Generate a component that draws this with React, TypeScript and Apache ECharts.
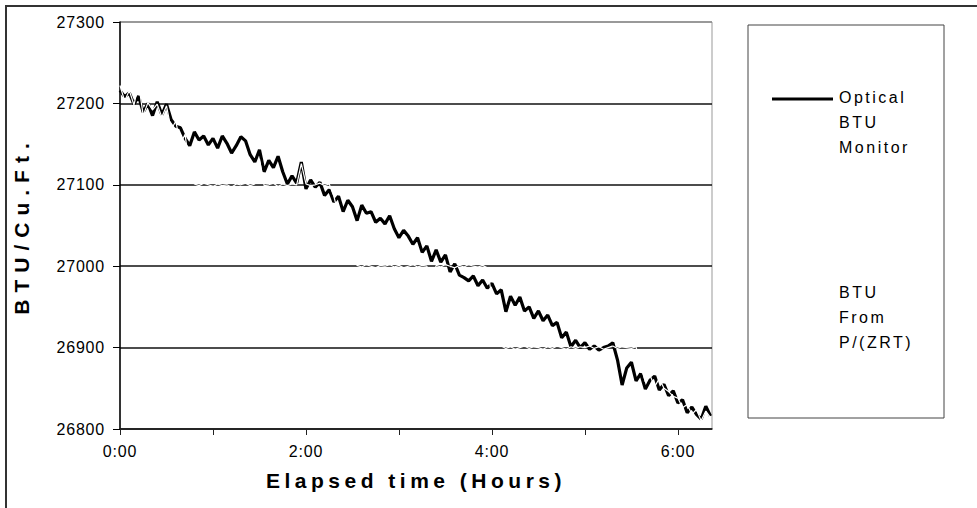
import React, { useEffect, useRef } from "react";
import * as echarts from "echarts";

// Elapsed time of each sample, in minutes
const minutes = [
  0, 3, 6, 9, 12, 15, 18, 21, 24, 27, 30, 33, 36, 39, 42, 45, 48, 51, 54, 57,
  60, 63, 66, 69, 72, 75, 78, 81, 84, 87, 90, 93, 96, 99, 102, 105, 108, 111, 114, 117,
  120, 123, 126, 129, 132, 135, 138, 141, 144, 147, 150, 153, 156, 159, 162, 165, 168, 171, 174, 177,
  180, 183, 186, 189, 192, 195, 198, 201, 204, 207, 210, 213, 216, 219, 222, 225, 228, 231, 234, 237,
  240, 243, 246, 249, 252, 255, 258, 261, 264, 267, 270, 273, 276, 279, 282, 285, 288, 291, 294, 297,
  300, 303, 306, 309, 312, 315, 318, 321, 324, 327, 330, 333, 336, 339, 342, 345, 348, 351, 354, 357,
  360, 363, 366, 369, 372, 375, 378, 381,
];

// Optical BTU monitor reading (BTU/Cu.Ft.)
const opticalBtu = [
  27216, 27208, 27213, 27199, 27209, 27189, 27200, 27185, 27202, 27186,
  27199, 27180, 27172, 27170, 27157, 27148, 27165, 27155, 27160, 27149,
  27157, 27145, 27160, 27151, 27139, 27148, 27159, 27154, 27137, 27128,
  27143, 27116, 27130, 27121, 27135, 27116, 27101, 27111, 27102, 27128,
  27095, 27106, 27097, 27103, 27087, 27094, 27079, 27086, 27067, 27081,
  27073, 27056, 27075, 27065, 27067, 27054, 27059, 27052, 27062, 27046,
  27035, 27044, 27037, 27027, 27035, 27017, 27025, 27006, 27020, 27005,
  27014, 26993, 27003, 26989, 26986, 26982, 26988, 26976, 26983, 26973,
  26979, 26966, 26971, 26944, 26963, 26952, 26962, 26945, 26950, 26936,
  26945, 26933, 26940, 26927, 26931, 26912, 26919, 26901, 26909, 26900,
  26906, 26898, 26902, 26897, 26900, 26902, 26906, 26885, 26854, 26875,
  26882, 26859, 26868, 26849, 26860, 26865, 26848, 26855, 26841, 26847,
  26832, 26836, 26820, 26827, 26818, 26812, 26828, 26816,
];

// BTU computed from P/(ZRT)
const calculatedBtu = [
  27222, 27203, 27216, 27198, 27224, 27185, 27201, 27192, 27199, 27183,
  27197, 27168, 27178, 27150, 27162, 27118, 27101, 27099, 27102, 27100,
  27098, 27101, 27099, 27100, 27097, 27101, 27100, 27102, 27099, 27101,
  27132, 27099, 27100, 27102, 27098, 27101, 27099, 27101, 27100, 27126,
  27101, 27099, 27100, 27102, 27099, 27101, 27086, 27062, 27048, 27030,
  27012, 27001, 26999, 27002, 27000, 26998, 27001, 27000, 27002, 26999,
  27001, 26998, 27000, 27002, 26999, 27001, 27000, 26980, 27001, 26999,
  27002, 27000, 26998, 27001, 26999, 27002, 27000, 26999, 27001, 26998,
  26962, 26930, 26902, 26899, 26901, 26898, 26900, 26902, 26899, 26901,
  26900, 26898, 26901, 26899, 26902, 26900, 26898, 26901, 26899, 26901,
  26900, 26902, 26899, 26901, 26898, 26900, 26902, 26899, 26901, 26900,
  26899, 26901, 26878, 26858, 26866, 26852, 26862, 26850, 26846, 26840,
  26838, 26826, 26830, 26818, 26824, 26810, 26822, 26814,
];

const seriesNames = ["Optical BTU Monitor", "BTU From P/(ZRT)"];
const legendLines = [
  ["Optical", "BTU", "Monitor"],
  ["BTU", "From", "P/(ZRT)"],
];
const xName = "Elapsed time (Hours)";
const yName = "BTU/Cu.Ft.";

const FONT = "'Liberation Sans', Arial, Helvetica, sans-serif";

const spacingFor = (s: string) => {
  if (s === xName) return 4.5;
  if (s === yName) return 7;
  if (legendLines.some((l) => l.includes(s))) return 2.5;
  return 0.8;
};

export default function App() {
  const ref = useRef<HTMLDivElement>(null);

  useEffect(() => {
    const el = ref.current!;
    const chart = echarts.init(el, null, { renderer: "svg" });

    const pairs = (vals: number[]) => minutes.map((m, i) => [m, vals[i]]);

    const legendText = (lines: string[], top: number) => ({
      type: "text",
      x: 839,
      y: top,
      silent: true,
      style: {
        text: lines.join("\n"),
        font: `16px ${FONT}`,
        fill: "#000",
        lineHeight: 25,
        verticalAlign: "top",
        align: "left",
      },
    });

    chart.setOption({
      animation: false,
      backgroundColor: "#fff",
      grid: {
        left: 120,
        top: 22,
        right: 265,
        bottom: 79,
        show: true,
        borderColor: "#999",
        borderWidth: 1,
        backgroundColor: "transparent",
      },
      xAxis: {
        type: "value",
        min: 0,
        max: 382,
        interval: 60,
        name: xName,
        nameLocation: "middle",
        nameGap: 41,
        nameTextStyle: { fontFamily: FONT, fontSize: 21, fontWeight: "bold", color: "#000" },
        axisLine: { show: true, onZero: false, lineStyle: { color: "#222", width: 1.5 } },
        axisTick: { show: true, inside: false, length: 6, lineStyle: { color: "#222" } },
        splitLine: { show: false },
        axisLabel: {
          show: true,
          margin: 14,
          fontFamily: FONT,
          fontSize: 16,
          color: "#000",
          showMaxLabel: false,
          formatter: (v: number) => (v % 120 === 0 ? `${v / 60}:00` : ""),
        },
      },
      yAxis: {
        type: "value",
        min: 26800,
        max: 27300,
        interval: 100,
        name: yName,
        nameLocation: "middle",
        nameGap: 88,
        nameRotate: 90,
        nameTextStyle: { fontFamily: FONT, fontSize: 21, fontWeight: "bold", color: "#000" },
        axisLine: { show: true, lineStyle: { color: "#000", width: 1.5 } },
        axisTick: { show: true, inside: false, length: 7, lineStyle: { color: "#000" } },
        splitLine: {
          show: true,
          lineStyle: { color: ["#000", "#111", "#111", "#111", "#111", "#888"], width: 1.5 },
        },
        axisLabel: {
          margin: 15,
          fontFamily: FONT,
          fontSize: 16,
          color: "#000",
          formatter: (v: number) => String(v),
        },
      },
      series: [
        {
          name: seriesNames[0],
          type: "line",
          data: pairs(opticalBtu),
          showSymbol: false,
          lineStyle: { color: "#000", width: 3.2 },
          itemStyle: { color: "#000" },
          z: 3,
        },
        {
          name: seriesNames[1],
          type: "line",
          data: pairs(calculatedBtu),
          showSymbol: false,
          lineStyle: { color: "#fff", width: 1.2 },
          itemStyle: { color: "#fff" },
          z: 4,
        },
      ],
      graphic: [
        {
          type: "polyline",
          silent: true,
          shape: { points: [[6, 508], [6, 6], [977, 6]] },
          style: { stroke: "#333", lineWidth: 2, fill: null },
        },
        {
          type: "rect",
          silent: true,
          shape: { x: 748, y: 25, width: 196, height: 393 },
          style: { stroke: "#444", lineWidth: 1, fill: "#fff" },
        },
        {
          type: "line",
          silent: true,
          shape: { x1: 772, y1: 99, x2: 833, y2: 99 },
          style: { stroke: "#000", lineWidth: 3 },
        },
        {
          type: "line",
          silent: true,
          shape: { x1: 772, y1: 292, x2: 833, y2: 292 },
          style: { stroke: "#fff", lineWidth: 1 },
        },
        legendText(legendLines[0], 85),
        legendText(legendLines[1], 280),
      ],
    });

    const applySpacing = () => {
      el.querySelectorAll("text").forEach((t) => {
        const s = (t.textContent || "").trim();
        t.setAttribute("letter-spacing", `${spacingFor(s)}px`);
      });
    };
    chart.on("rendered", applySpacing);
    applySpacing();
    const timer = window.setTimeout(applySpacing, 50);

    return () => {
      window.clearTimeout(timer);
      chart.dispose();
    };
  }, []);

  return (
    <div
      ref={ref}
      style={{ position: "fixed", left: 0, top: 0, width: 977, height: 508, background: "#fff" }}
    />
  );
}
